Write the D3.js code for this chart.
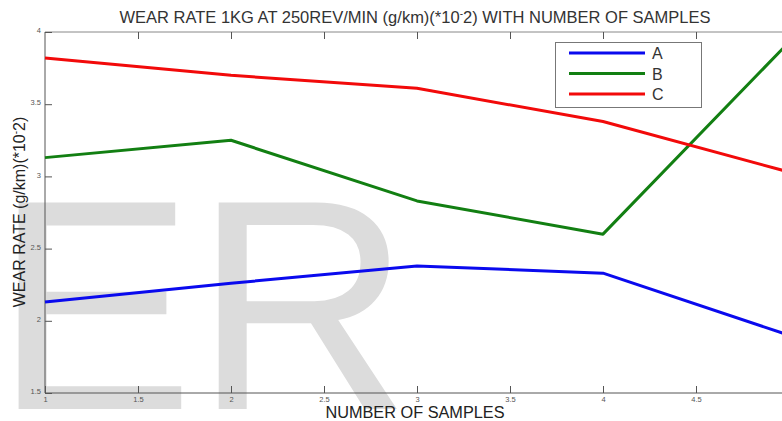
<!DOCTYPE html>
<html><head><meta charset="utf-8">
<script src="https://cdn.jsdelivr.net/npm/d3@7"></script>
<style>body{margin:0;background:#fff}svg{display:block;font-family:"Liberation Sans",Arial,sans-serif}</style>
</head><body><svg id="c" width="782" height="421"></svg>
<script>
const samples = [1, 2, 3, 4, 5];
const seriesNames = ["A", "B", "C"];
const seriesA = [2.13, 2.26, 2.38, 2.33, 1.90];
const seriesB = [3.13, 3.25, 2.83, 2.60, 3.93];
const seriesC = [3.82, 3.70, 3.61, 3.38, 3.03];
const colors = ["#0a0aee", "#127f12", "#f20a0a"];
const xTicks = [1, 1.5, 2, 2.5, 3, 3.5, 4, 4.5, 5];
const yTicks = [1.5, 2, 2.5, 3, 3.5, 4];

(function () {
const svg = d3.select("#c");
const pL = 45, pT = 32, pB = 393, pR = 789;
const x = d3.scaleLinear().domain([1, 5]).range([pL, pR]);
const y = d3.scaleLinear().domain([1.5, 4]).range([pB, pT]);
const fmt = d3.format("");

// watermark
svg.append("text").attr("x", -6).attr("y", 409)
  .attr("font-size", 300).attr("fill", "#dcdcdc").text("ER");

// frame
const axisCol = "#555";
svg.append("line").attr("x1", pL).attr("x2", pR).attr("y1", pT).attr("y2", pT).attr("stroke", "#888");
svg.append("line").attr("x1", pL).attr("x2", pR).attr("y1", pB).attr("y2", pB).attr("stroke", axisCol);
svg.append("line").attr("x1", pL).attr("x2", pL).attr("y1", pT).attr("y2", pB).attr("stroke", axisCol);

// axes with inward ticks
const xb = svg.append("g").attr("transform", `translate(0,${pB})`)
  .call(d3.axisBottom(x).tickValues(xTicks).tickSize(-7).tickPadding(4).tickFormat(d => d === 5 ? "" : fmt(d)));
const xt = svg.append("g").attr("transform", `translate(0,${pT})`)
  .call(d3.axisTop(x).tickValues(xTicks.filter(d => d > 1)).tickSize(-7).tickFormat(""));
const yl = svg.append("g").attr("transform", `translate(${pL},0)`)
  .call(d3.axisLeft(y).tickValues(yTicks).tickSize(-7).tickPadding(4).tickFormat(fmt));
const yr = svg.append("g").attr("transform", `translate(${pR},0)`)
  .call(d3.axisRight(y).tickValues(yTicks).tickSize(-7).tickFormat(""));
[xb, xt, yl, yr].forEach(g => {
  g.select(".domain").remove();
  g.selectAll(".tick line").attr("stroke", axisCol);
  g.selectAll(".tick text").attr("font-size", 7.5).attr("fill", "#555").attr("font-family", "Liberation Sans, Arial, sans-serif");
});
yl.selectAll(".tick text").attr("dy", "0.1em");

// lines
const data = [seriesA, seriesB, seriesC];
const line = d3.line().x((d, i) => x(samples[i])).y(d => y(d));
data.forEach((s, k) => {
  svg.append("path").datum(s).attr("d", line).attr("fill", "none")
    .attr("stroke", colors[k]).attr("stroke-width", 3).attr("stroke-linejoin", "round");
});

// legend
const lg = svg.append("g");
lg.append("rect").attr("x", 555.5).attr("y", 42.5).attr("width", 146).attr("height", 65)
  .attr("fill", "#fff").attr("stroke", "#777");
seriesNames.forEach((n, k) => {
  const yy = 53 + k * 20.5;
  lg.append("line").attr("x1", 569).attr("x2", 645).attr("y1", yy).attr("y2", yy)
    .attr("stroke", colors[k]).attr("stroke-width", 3);
  lg.append("text").attr("x", 652).attr("y", yy + 6).attr("font-size", 16).attr("fill", "#333").text(n);
});

// title
const t = svg.append("text").attr("x", 415).attr("y", 23).attr("text-anchor", "middle")
  .attr("font-size", 16.5).attr("fill", "#333");
t.append("tspan").text("WEAR RATE 1KG AT 250REV/MIN (g/km)(*10");
t.append("tspan").attr("dy", -6).attr("font-size", 10).text("-");
t.append("tspan").attr("dy", 6).text("2) WITH NUMBER OF SAMPLES");

svg.append("text").attr("x", 415).attr("y", 418).attr("text-anchor", "middle")
  .attr("font-size", 16.3).attr("fill", "#222").text("NUMBER OF SAMPLES");

const yt = svg.append("text").attr("transform", "translate(25,212) rotate(-90)")
  .attr("text-anchor", "middle").attr("font-size", 16).attr("fill", "#222");
yt.append("tspan").text("WEAR RATE (g/km)(*10");
yt.append("tspan").attr("dy", -6).attr("font-size", 10).text("-");
yt.append("tspan").attr("dy", 6).text("2)");
})();
</script></body></html>
